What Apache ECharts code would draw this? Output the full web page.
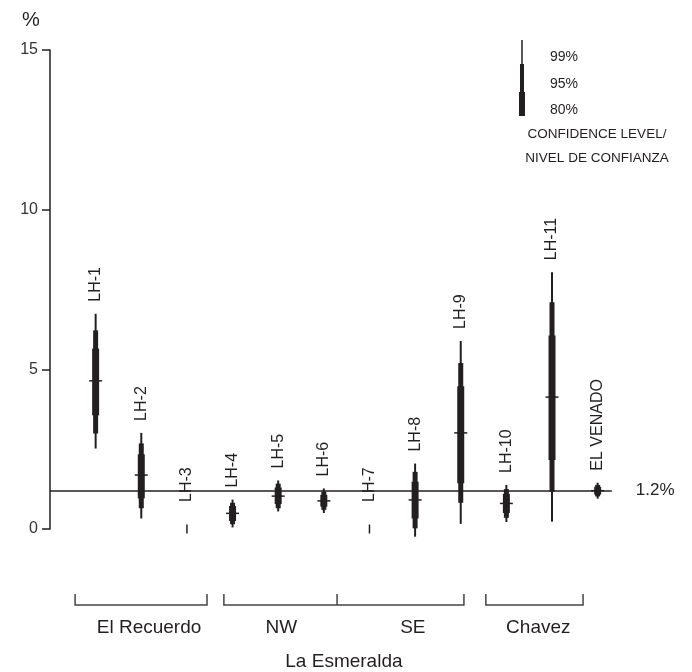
<!DOCTYPE html>
<html>
<head>
<meta charset="utf-8">
<script src="https://cdn.jsdelivr.net/npm/echarts@6/dist/echarts.min.js"></script>
<style>
html,body{margin:0;padding:0;background:#fff;}
#chart{width:692px;height:672px;}
</style>
</head>
<body>
<div id="chart"></div>
<script>
// ---- data ----
const categories = ['LH-1','LH-2','LH-3','LH-4','LH-5','LH-6','LH-7','LH-8','LH-9','LH-10','LH-11','EL VENADO'];
const median   = [4.64, 1.69, null, 0.49, 1.03, 0.88, null, 0.91, 3.01, 0.80, 4.13, 1.20];
const ci99Low  = [2.52, 0.33, null, 0.05, 0.55, 0.50, null, -0.24, 0.16, 0.22, 0.23, 0.95];
const ci99High = [6.74, 3.01, null, 0.92, 1.52, 1.27, null, 2.05, 5.89, 1.38, 8.04, 1.45];
const ci95Low  = [2.99, 0.65, null, 0.15, 0.65, 0.60, null, 0.02, 0.82, 0.35, 1.17, 1.02];
const ci95High = [6.22, 2.68, null, 0.82, 1.42, 1.17, null, 1.79, 5.20, 1.25, 7.10, 1.38];
const ci80Low  = [3.56, 0.96, null, 0.25, 0.78, 0.70, null, 0.33, 1.43, 0.50, 2.16, 1.08];
const ci80High = [5.65, 2.34, null, 0.72, 1.30, 1.07, null, 1.48, 4.47, 1.10, 6.06, 1.32];
const belowDetection = [null, null, 0, null, null, null, 0, null, null, null, null, null];
const referenceValue = 1.2;
const referenceLabel = '1.2%';
const legendLevels = ['99%', '95%', '80%'];
const legendTitle = ['CONFIDENCE LEVEL/', 'NIVEL DE CONFIANZA'];
// group brackets along the x axis (in category-position units; LH-1 = 1)
const groupBrackets = [
  {from: 0.55, to: 3.44, divider: null},
  {from: 3.81, to: 9.07, divider: 6.29},
  {from: 9.55, to: 11.68, divider: null}
];
const groupNames = ['El Recuerdo', 'NW', 'SE', 'Chavez'];
const groupLabelCenter = [2.17, 5.07, 7.95, 10.7];
const superGroupName = 'La Esmeralda';
const superGroupSpan = [3.81, 9.07];

// ---- drawing ----
const INK = '#231f20';
const FONT = 'Arial, "Liberation Sans", sans-serif';
const X_MAX = 12.31;
const chart = echarts.init(document.getElementById('chart'), null, {renderer: 'canvas'});

function renderItem(params, api) {
  const i = api.value(1);
  const x = api.coord([api.value(0), 0])[0];
  const py = v => api.coord([0, v])[1];
  const children = [];
  let labelY;
  if (ci99Low[i] != null) {
    children.push({type: 'line', shape: {x1: x, y1: py(ci99Low[i]), x2: x, y2: py(ci99High[i])},
      style: {stroke: INK, lineWidth: 2}});
    children.push({type: 'rect', shape: {x: x - 2.5, y: py(ci95High[i]), width: 5, height: py(ci95Low[i]) - py(ci95High[i])},
      style: {fill: INK}});
    children.push({type: 'rect', shape: {x: x - 3.5, y: py(ci80High[i]), width: 7, height: py(ci80Low[i]) - py(ci80High[i])},
      style: {fill: INK}});
    children.push({type: 'line', shape: {x1: x - 6.5, y1: py(median[i]), x2: x + 6.5, y2: py(median[i])},
      style: {stroke: INK, lineWidth: 1.5}});
    labelY = py(ci99High[i]) - 12;
  } else {
    const y0 = py(belowDetection[i]);
    children.push({type: 'line', shape: {x1: x, y1: y0 - 4.5, x2: x, y2: y0 + 4.5},
      style: {stroke: INK, lineWidth: 1.5}});
    labelY = y0 - 27;
  }
  children.push({type: 'text', x: x, y: labelY, rotation: Math.PI / 2,
    style: {text: categories[i], x: 0, y: 0, align: 'left', verticalAlign: 'middle',
      font: '16px ' + FONT, fill: INK}});
  return {type: 'group', children: children};
}

chart.setOption({
  animation: false,
  grid: {left: 50, right: 80.2, top: 50, bottom: 143},
  xAxis: {type: 'value', min: 0, max: X_MAX, show: false},
  yAxis: {
    type: 'value', min: 0, max: 15, interval: 5,
    axisLine: {show: true, lineStyle: {color: INK, width: 1.5}},
    axisTick: {show: true, length: 8, lineStyle: {color: INK, width: 1.5}},
    axisLabel: {margin: 12, color: '#333', fontSize: 16, fontFamily: FONT},
    splitLine: {show: false}
  },
  series: [{
    type: 'custom',
    clip: false,
    renderItem: renderItem,
    data: categories.map((c, i) => [i + 1, i]),
    markLine: {
      silent: true, symbol: 'none',
      lineStyle: {color: INK, width: 1.5, type: 'solid'},
      label: {show: true, position: 'end', formatter: referenceLabel, distance: 24,
        color: INK, fontSize: 17, fontFamily: FONT},
      data: [[{coord: [0, referenceValue]}, {coord: [X_MAX, referenceValue]}]]
    },
    z: 3
  }]
});

// ---- annotations (positions derived from axis scale) ----
const px = v => chart.convertToPixel({xAxisIndex: 0}, v);
const graphics = [];
graphics.push({type: 'text', left: 22, top: 10, style: {text: '%', font: '20px ' + FONT, fill: INK}});
// legend
const lx = 522;
graphics.push({type: 'line', shape: {x1: lx, y1: 40, x2: lx, y2: 64}, style: {stroke: INK, lineWidth: 1.5}});
graphics.push({type: 'rect', shape: {x: lx - 2, y: 64, width: 4, height: 28}, style: {fill: INK}});
graphics.push({type: 'rect', shape: {x: lx - 3, y: 92, width: 6, height: 24}, style: {fill: INK}});
const legendY = [57, 84, 110];
legendLevels.forEach((t, k) => {
  graphics.push({type: 'text', x: 550, y: legendY[k],
    style: {text: t, font: '14px ' + FONT, fill: INK, align: 'left', verticalAlign: 'middle'}});
});
legendTitle.forEach((t, k) => {
  graphics.push({type: 'text', x: 597, y: 134 + k * 24,
    style: {text: t, font: '13.5px ' + FONT, fill: INK, align: 'center', verticalAlign: 'middle'}});
});
// brackets
const bY = 605, bH = 11;
groupBrackets.forEach(b => {
  const a = px(b.from), e = px(b.to);
  graphics.push({type: 'polyline', shape: {points: [[a, bY - bH], [a, bY], [e, bY], [e, bY - bH]]},
    style: {stroke: '#444', lineWidth: 1.5, fill: null}});
  if (b.divider != null) {
    const d = px(b.divider);
    graphics.push({type: 'line', shape: {x1: d, y1: bY - bH, x2: d, y2: bY}, style: {stroke: '#444', lineWidth: 1.5}});
  }
});
groupNames.forEach((n, k) => {
  graphics.push({type: 'text', x: px(groupLabelCenter[k]), y: 628,
    style: {text: n, font: '19px ' + FONT, fill: INK, align: 'center', verticalAlign: 'middle'}});
});
graphics.push({type: 'text', x: (px(superGroupSpan[0]) + px(superGroupSpan[1])) / 2, y: 662,
  style: {text: superGroupName, font: '19px ' + FONT, fill: INK, align: 'center', verticalAlign: 'middle'}});

chart.setOption({graphic: graphics});
</script>
</body>
</html>
